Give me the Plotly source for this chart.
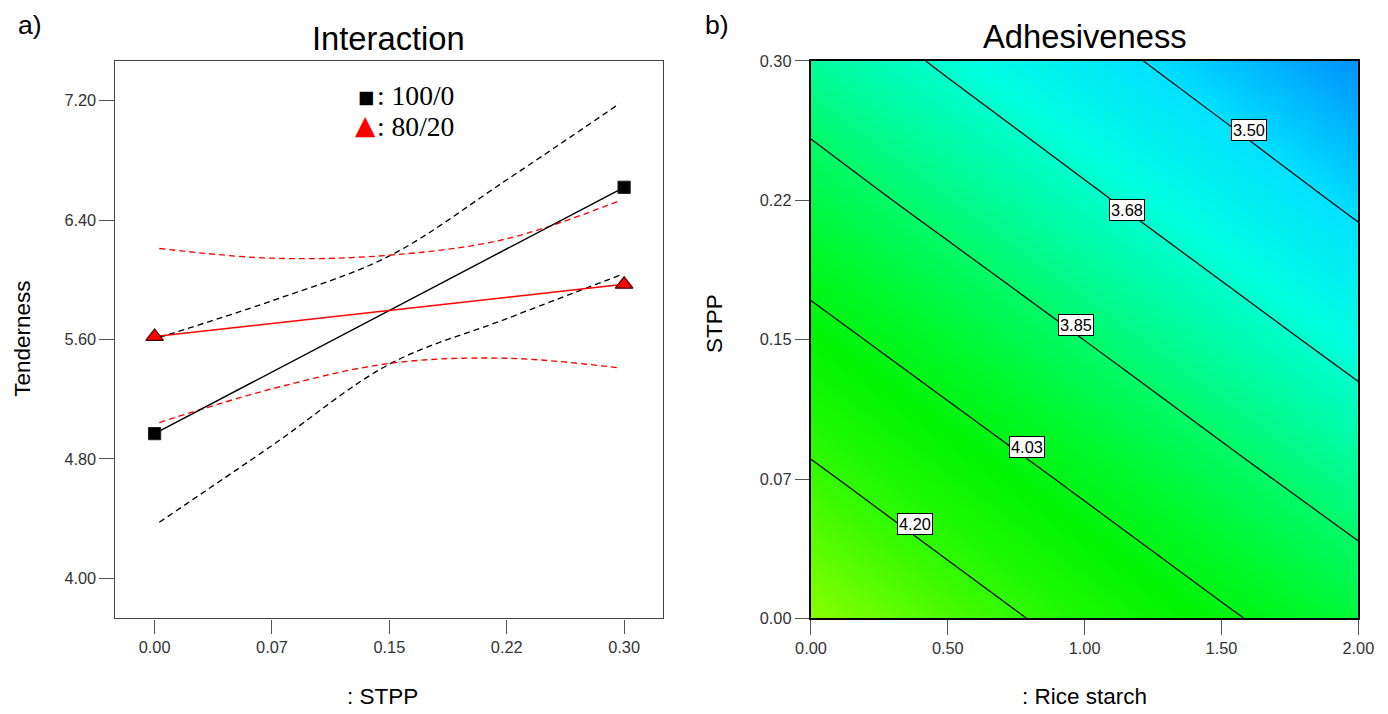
import numpy as np
import plotly.graph_objects as go

# ---------------- Panel a) Interaction : Tenderness vs STPP ----------------
stpp_levels = [0.0, 0.30]
tenderness_100_0 = [4.97, 6.62]
tenderness_80_20 = [5.62, 5.97]

ci_stpp = [0.003, 0.075, 0.15, 0.225, 0.297]
ci_100_0_upper = [5.615, 5.86, 6.16, 6.67, 7.18]
ci_100_0_lower = [4.376, 4.89, 5.435, 5.74, 6.03]
ci_80_20_upper = [6.21, 6.145, 6.165, 6.275, 6.53]
ci_80_20_lower = [5.044, 5.27, 5.44, 5.475, 5.41]

series_names = ["100/0", "80/20"]

a_x_tickvals = [0.0, 0.075, 0.15, 0.225, 0.30]
a_x_ticktext = ["0.00", "0.07", "0.15", "0.22", "0.30"]
a_y_tickvals = [4.00, 4.80, 5.60, 6.40, 7.20]
a_y_ticktext = ["4.00", "4.80", "5.60", "6.40", "7.20"]

# ---------------- Panel b) Adhesiveness contour ----------------
rice_starch = [0.0, 0.5, 1.0, 1.5, 2.0]
stpp_grid = [0.0, 0.075, 0.15, 0.225, 0.30]
adhesiveness = [
    [4.375, 4.264, 4.153, 4.043, 3.935],
    [4.222, 4.111, 4.001, 3.891, 3.782],
    [4.068, 3.958, 3.849, 3.739, 3.629],
    [3.915, 3.806, 3.697, 3.587, 3.476],
    [3.767, 3.657, 3.547, 3.437, 3.325],
]
contour_levels = [3.50, 3.675, 3.85, 4.025, 4.20]
contour_label_text = ["3.50", "3.68", "3.85", "4.03", "4.20"]
# where each contour label box sits (rice starch, STPP)
contour_label_pos = [(1.602, 0.263), (1.153, 0.220), (0.967, 0.158), (0.790, 0.092), (0.380, 0.051)]

b_x_tickvals = [0.0, 0.5, 1.0, 1.5, 2.0]
b_x_ticktext = ["0.00", "0.50", "1.00", "1.50", "2.00"]
b_y_tickvals = [0.0, 0.075, 0.15, 0.225, 0.30]
b_y_ticktext = ["0.00", "0.07", "0.15", "0.22", "0.30"]

# ---------------- layout helpers ----------------
W, H = 1388, 714
S, OX, OY = 0.978, 15.2, 7.0   # compensation for how the page is photographed
SANS = "Liberation Sans, Arial, sans-serif"
SERIF = "Liberation Serif, Times New Roman, serif"


def px_x(p):
    return max(0.0, (p - OX) / S) / W


def px_y(p):
    return 1 - (p - OY) / S / H


def sz(v):
    return v / S


fig = go.Figure()

dash = "6px,4px"
for yv, col in [(ci_100_0_upper, "black"), (ci_100_0_lower, "black"),
                (ci_80_20_upper, "red"), (ci_80_20_lower, "red")]:
    fig.add_trace(go.Scatter(x=ci_stpp, y=yv, mode="lines",
                             line=dict(color=col, width=sz(1.3), dash=dash, shape="spline"),
                             showlegend=False, xaxis="x", yaxis="y", hoverinfo="skip"))
fig.add_trace(go.Scatter(x=stpp_levels, y=tenderness_100_0, mode="lines+markers", name=series_names[0],
                         line=dict(color="black", width=sz(1.4)),
                         marker=dict(symbol="square", size=sz(12), color="black", line=dict(color="#222", width=1)),
                         showlegend=False, xaxis="x", yaxis="y"))
fig.add_trace(go.Scatter(x=stpp_levels, y=tenderness_80_20, mode="lines+markers", name=series_names[1],
                         line=dict(color="red", width=sz(1.4)),
                         marker=dict(symbol="triangle-up", size=sz(15), color="red", line=dict(color="#3a0000", width=1.2)),
                         showlegend=False, xaxis="x", yaxis="y"))

zmin = float(np.min(adhesiveness))
zmax = float(np.max(adhesiveness))
colorscale = [
    [0.0, "rgb(0,145,255)"],
    [0.17, "rgb(0,226,255)"],
    [0.30, "rgb(0,255,225)"],
    [0.42, "rgb(0,252,155)"],
    [0.50, "rgb(0,250,105)"],
    [0.60, "rgb(0,248,50)"],
    [0.70, "rgb(0,245,5)"],
    [0.78, "rgb(25,248,0)"],
    [0.86, "rgb(60,250,0)"],
    [1.0, "rgb(135,255,0)"],
]
fig.add_trace(go.Heatmap(x=rice_starch, y=stpp_grid, z=adhesiveness, zsmooth="best", colorscale=colorscale,
                         zmin=zmin, zmax=zmax, showscale=False, xaxis="x2", yaxis="y2", hoverinfo="skip"))
fig.add_trace(go.Contour(x=rice_starch, y=stpp_grid, z=adhesiveness,
                         contours=dict(start=contour_levels[0], end=contour_levels[-1] + 0.01,
                                       size=contour_levels[1] - contour_levels[0], coloring="none", showlabels=False),
                         line=dict(color="black", width=sz(1.2)), showscale=False, xaxis="x2", yaxis="y2"))

annotations = []
for txt, (lx, ly) in zip(contour_label_text, contour_label_pos):
    annotations.append(dict(x=lx, y=ly, xref="x2", yref="y2", text=txt, showarrow=False,
                            font=dict(family=SANS, size=sz(16), color="black"),
                            bgcolor="white", bordercolor="black", borderwidth=1, borderpad=1))


def label(x, y, text, size, family=SANS, color="black", xanchor="center", yanchor="middle", angle=0):
    return dict(x=px_x(x), y=px_y(y), xref="paper", yref="paper", text=text, showarrow=False, textangle=angle,
                font=dict(family=family, size=sz(size), color=color), xanchor=xanchor, yanchor=yanchor)


annotations += [
    label(388, 37, "Interaction", 32),
    label(1085, 35, "Adhesiveness", 32),
    label(12, 23, "a)", 26, xanchor="left"),
    label(703, 23, "b)", 26, xanchor="left"),
    label(22, 338, "Tenderness", 22, angle=-90),
    label(715, 323, "STPP", 22, angle=-90),
    dict(x=px_x(382), y=0, xref="paper", yref="paper", text=": STPP", showarrow=False,
         font=dict(family=SANS, size=sz(22), color="black"), xanchor="center", yanchor="bottom", yshift=-6),
    dict(x=px_x(1085), y=0, xref="paper", yref="paper", text=": Rice starch", showarrow=False,
         font=dict(family=SANS, size=sz(22), color="black"), xanchor="center", yanchor="bottom", yshift=-6),
    label(366, 95.5, "■", 17, family="DejaVu Sans"),
    label(375, 94, ": " + series_names[0], 27, family=SERIF, xanchor="left"),
    label(365, 123, "▲", 26, family="DejaVu Sans", color="red"),
    label(375, 125, ": " + series_names[1], 27, family=SERIF, xanchor="left"),
]

tickfont = dict(family=SANS, size=sz(16), color="#333")
axis_common = dict(showgrid=False, zeroline=False, ticks="outside", ticklen=sz(14), tickwidth=sz(1.3),
                   showline=True, mirror=True, tickfont=tickfont, ticklabeloverflow="allow")

fig.update_layout(
    width=W, height=H, margin=dict(l=0, r=0, t=0, b=0),
    paper_bgcolor="white", plot_bgcolor="white", showlegend=False,
    xaxis=dict(domain=[px_x(114.3), px_x(663.3)], range=[-0.0253, 0.3251], tickvals=a_x_tickvals, ticktext=a_x_ticktext,
               linecolor="#444", linewidth=sz(1.4), tickcolor="#555", anchor="y", **axis_common),
    yaxis=dict(domain=[px_y(618.3), px_y(59.3)], range=[3.733, 7.465], tickvals=a_y_tickvals, ticktext=a_y_ticktext,
               linecolor="#444", linewidth=sz(1.4), tickcolor="#555", anchor="x", **axis_common),
    xaxis2=dict(domain=[px_x(811), px_x(1359)], range=[0, 2], tickvals=b_x_tickvals, ticktext=b_x_ticktext,
                linecolor="black", linewidth=sz(1.6), tickcolor="#555", anchor="y2", **axis_common),
    yaxis2=dict(domain=[px_y(618.5), px_y(59)], range=[0, 0.30], tickvals=b_y_tickvals, ticktext=b_y_ticktext,
                linecolor="black", linewidth=sz(1.6), tickcolor="#555", anchor="x2", **axis_common),
    annotations=annotations,
)

fig.write_html("out.html", config={"displayModeBar": False},
               post_script="document.body.style.margin='0';")
